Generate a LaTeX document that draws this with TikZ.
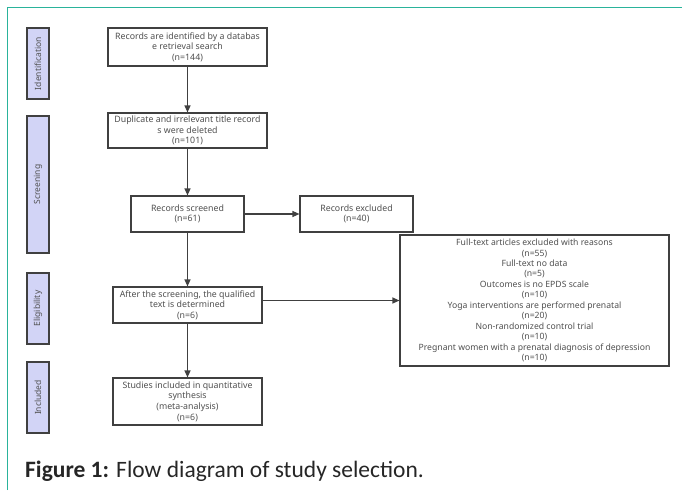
\documentclass[tikz,border=0pt]{standalone}
\usepackage{fontspec}
\setmainfont{Noto Sans}
\newfontfamily\capfont{Carlito}
\usetikzlibrary{arrows.meta}
\definecolor{frameteal}{RGB}{42,179,155}
\definecolor{boxline}{RGB}{64,64,64}
\definecolor{txtgray}{RGB}{80,80,80}
\definecolor{lav}{RGB}{210,212,246}
\tikzset{
  box/.style={draw=boxline, line width=1.1pt, fill=white, rectangle, inner sep=0pt,
    align=center, text=txtgray, font=\fontsize{8.8}{10.6}\selectfont},
  stage/.style={draw=boxline, line width=1.1pt, fill=lav, rectangle, inner sep=0pt,
    minimum width=22pt},
  stagetext/.style={rotate=90, text=txtgray, font=\fontsize{8.5}{10}\selectfont},
  arr/.style={draw=boxline, line width=1.1pt, -{Triangle[length=7pt,width=6pt]}}
}
\begin{document}
\begin{tikzpicture}[x=1pt,y=-1pt]
\useasboundingbox (0,0) rectangle (682,490);
\draw[draw=frameteal, line width=1.6pt] (7.5,490) -- (7.5,7.5) -- (682,7.5);
% stage labels
\node[stage, minimum height=71pt] (ident) at (38,63.5) {};
\node[stagetext] (identt) at (ident.center) {Identification};
\node[stage, minimum height=137pt] (screen) at (38,184.5) {};
\node[stagetext] (screent) at (screen.center) {Screening};
\node[stage, minimum height=71pt] (elig) at (38,308.5) {};
\node[stagetext] (eligt) at (elig.center) {Eligibility};
\node[stage, minimum height=71pt] (incl) at (38,397.5) {};
\node[stagetext] (inclt) at (incl.center) {Included};
% main boxes
\node[box, minimum width=159pt, minimum height=38pt] (b1) at (187.5,47) {Records are identified by a databas\\e retrieval search\\(n=144)};
\node[box, minimum width=159pt, minimum height=35pt] (b2) at (187.5,130.5) {Duplicate and irrelevant title record\\s were deleted\\(n=101)};
\node[box, minimum width=113pt, minimum height=36pt] (b3) at (187.5,214) {Records screened\\(n=61)};
\node[box, minimum width=113pt, minimum height=36pt] (ex) at (356.5,214) {Records excluded\\(n=40)};
\node[box, minimum width=149pt, minimum height=36pt] (b4) at (187.5,305) {After the screening, the qualified\\text is determined\\(n=6)};
\node[box, minimum width=149pt, minimum height=47pt] (b5) at (187.5,401.5) {Studies included in quantitative\\synthesis\\(meta-analysis)\\(n=6)};
\node[box, minimum width=269pt, minimum height=131pt, font=\fontsize{8.65}{10.45}\selectfont] (big) at (534.5,300.5) {Full-text articles excluded with reasons\\(n=55)\\Full-text no data\\(n=5)\\Outcomes is no EPDS scale\\(n=10)\\Yoga interventions are performed prenatal\\(n=20)\\Non-randomized control trial\\(n=10)\\Pregnant women with a prenatal diagnosis of depression\\(n=10)};
% connectors
\draw[arr] (b1) -- (b2);
\draw[arr] (b2) -- (b3);
\draw[arr] (b3) -- (ex);
\draw[arr] (b3) -- (b4);
\draw[arr] (b4) -- (b5);
\draw[arr] (b4.east |- big.west) -- (big.west);
% caption
\node[anchor=base west, inner sep=0pt, text=black!85, font=\capfont\fontsize{23.5}{26}\selectfont] (cap) at (25,477) {\textbf{Figure 1:} Flow diagram of study selection.};
\end{tikzpicture}
\end{document}
